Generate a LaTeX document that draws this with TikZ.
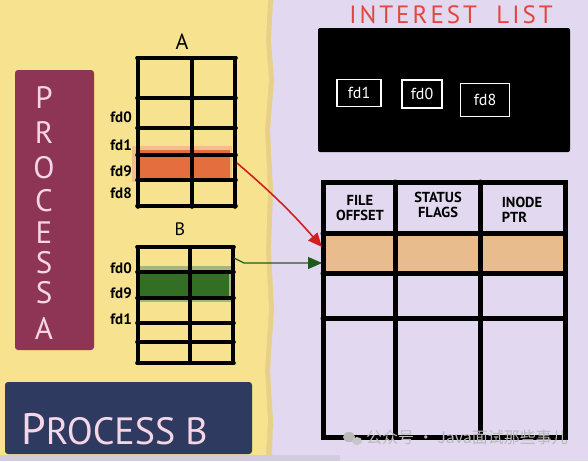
\documentclass[tikz,border=0pt]{standalone}
\usepackage{fontspec}
\setmainfont{PT Sans}
\newfontfamily\cjk{Noto Sans CJK SC}
\usetikzlibrary{arrows.meta}
\definecolor{yel}{RGB}{247,226,143}
\definecolor{yeledge}{RGB}{232,208,136}
\definecolor{lav}{RGB}{226,217,240}
\definecolor{maroon}{RGB}{142,52,84}
\definecolor{navy}{RGB}{46,58,95}
\definecolor{pinkw}{RGB}{246,214,230}
\definecolor{ored}{RGB}{228,110,62}
\definecolor{gdark}{RGB}{50,110,36}
\definecolor{tan}{RGB}{233,188,142}
\definecolor{redtxt}{RGB}{226,70,62}
\definecolor{arrred}{RGB}{210,30,30}
\definecolor{arrgreen}{RGB}{30,90,30}
\begin{document}
\begin{tikzpicture}[x=1pt,y=-1pt,
  grid/.style={line width=3.6pt,line cap=round,black},
  biggrid/.style={line width=5pt,line cap=round,black},
  fdlab/.style={font=\bfseries\fontsize{15}{15}\selectfont,anchor=east,inner sep=0pt},
  vlet/.style={font=\fontsize{31}{31}\selectfont,text=pinkw,inner sep=0pt,text height=22pt,text depth=0pt},
  fdbox/.style={draw=white,line width=1.2pt,text=white,font=\fontsize{16}{16}\selectfont,inner sep=0pt},
  hdr/.style={font=\bfseries\fontsize{14.5}{15}\selectfont,align=center,inner sep=0pt},
  arr/.style={line width=1.6pt,-{Triangle[length=14pt,width=12pt]}}]
\useasboundingbox (0,0) rectangle (588,461);
% backgrounds
\fill[lav] (0,0) rectangle (588,461);
\fill[yeledge] (0,0) -- (273,0) -- (271,40) -- (274,80) -- (270,130) -- (273,190) -- (271,250) -- (274,310) -- (270,370) -- (273,420) -- (272,455) -- (0,455) -- cycle;
\fill[yel] (0,0) -- (268,0) -- (266,40) -- (269,80) -- (265,130) -- (268,190) -- (266,250) -- (269,310) -- (265,370) -- (268,420) -- (266,455) -- (0,455) -- cycle;
\fill[lav!85!gray] (0,455) rectangle (340,461);
% Process A
\fill[maroon,rounded corners=3pt] (15,70) rectangle (94,350);
\node[vlet] (pa1) at (44,97) {P};
\node[vlet] (pa2) at (44,132) {R};
\node[vlet] (pa3) at (44,167) {O};
\node[vlet] (pa4) at (44,200) {C};
\node[vlet] (pa5) at (44,232) {E};
\node[vlet] (pa6) at (44,262) {S};
\node[vlet] (pa7) at (44,292) {S};
\node[vlet] (pa8) at (44,328) {A};
% Process B
\fill[navy,rounded corners=3pt] (5,382) rectangle (252,454);
\node[font=\fontsize{44}{44}\selectfont,text=pinkw,anchor=west,inner sep=0pt] (pb) at (21,429) {P\fontsize{38}{38}\selectfont ROCESS B};
% table A
\fill[ored!60,opacity=0.6] (132,146) rectangle (232,182);
\fill[ored] (138,150) rectangle (230,178);
\node[font=\fontsize{22}{22}\selectfont,inner sep=0pt] (la) at (182,42) {A};
\foreach \yy in {58,98,128,155,180,206} \draw[grid] (137,\yy) -- (236,\yy);
\foreach \xx in {138,192,235} \draw[grid] (\xx,58) -- (\xx,207);
\node[fdlab] (a0) at (132,117) {fd0};
\node[fdlab] (a1) at (132,145) {fd1};
\node[fdlab] (a9) at (132,171) {fd9};
\node[fdlab] (a8) at (132,193) {fd8};
\coordinate (aout) at (237,163);
% table B
\fill[gdark!70,opacity=0.6] (136,266) rectangle (232,302);
\fill[gdark] (140,270) rectangle (229,299);
\node[font=\fontsize{18}{18}\selectfont,inner sep=0pt] (lb) at (180,229) {B};
\foreach \yy in {247,272,298,323,342,363} \draw[grid] (137,\yy) -- (234,\yy);
\foreach \xx in {138,190,233} \draw[grid] (\xx,247) -- (\xx,363);
\node[fdlab] (b0) at (132,268) {fd0};
\node[fdlab] (b9) at (132,293) {fd9};
\node[fdlab] (b1) at (132,319) {fd1};
\coordinate (bout) at (234,258);
% interest list
\node[text=redtxt,font=\fontsize{25}{25}\selectfont\addfontfeature{LetterSpace=12},inner sep=0pt] (il) at (451,15) {INTEREST\ \ LIST};
\fill[black,rounded corners=2pt] (318,28) rectangle (570,152);
\node[fdbox,minimum width=44pt,minimum height=27pt] (f1) at (359,93) {fd1};
\node[fdbox,minimum width=40pt,minimum height=28pt] (f0) at (422,94) {fd0};
\node[fdbox,minimum width=49pt,minimum height=33pt] (f8) at (485,100) {fd8};
% big table
\fill[tan] (323,233) rectangle (565,273);
\draw[biggrid] (323,182) rectangle (565,437);
\foreach \yy in {233,273,318} \draw[biggrid] (323,\yy) -- (565,\yy);
\foreach \xx in {395,480} \draw[biggrid] (\xx,182) -- (\xx,437);
\node[hdr] (h1) at (360,208) {FILE\\OFFSET};
\node[hdr] (h2) at (438,205) {STATUS\\FLAGS};
\node[hdr,align=left] (h3) at (522,210) {INODE\\PTR};
\coordinate (tin1) at (322,247);
\coordinate (tin2) at (322,263);
% arrows
\draw[arr,arrred] (aout) to[bend left=4] (tin1);
\draw[arr,arrgreen,line width=1.2pt] (bout) -- (244,263) -- (tin2);
% watermark
\fill[gray!55] (349,437) ellipse (6pt and 5pt);
\fill[gray!45] (357,441) ellipse (5pt and 4pt);
\node[text=gray!55,font=\cjk\fontsize{16}{16}\selectfont,anchor=west,inner sep=0pt] (wm) at (366,437) {公众号 · Java面试那些事儿};
\end{tikzpicture}
\end{document}
